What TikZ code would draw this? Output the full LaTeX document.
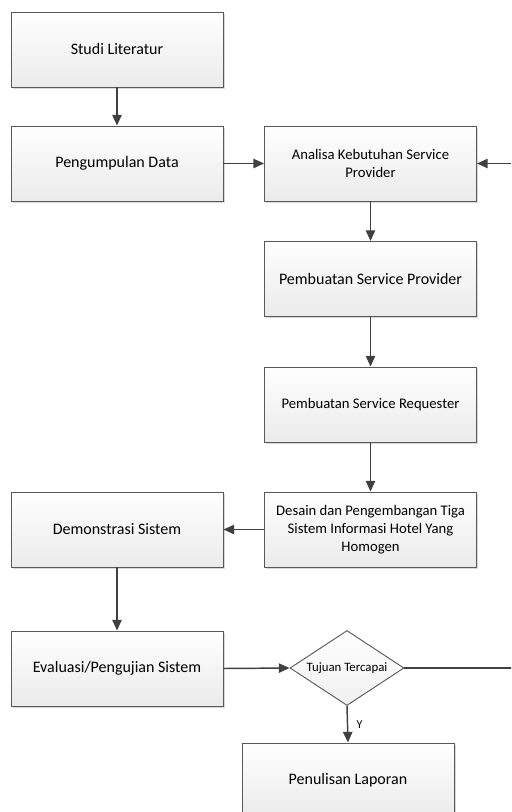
\documentclass[tikz,border=0pt]{standalone}
\usepackage{fontspec}
\setmainfont{Carlito}
\usetikzlibrary{shapes.geometric,arrows.meta,shadows}

\definecolor{edge}{HTML}{595959}
\definecolor{wire}{HTML}{404040}

\tikzset{
  stepbox/.style={
    rectangle, draw=edge, line width=0.7pt,
    top color=white, bottom color=black!8,
    drop shadow={shadow xshift=1.3pt, shadow yshift=-1.3pt, fill=black!22, opacity=0.7},
    minimum width=159pt, minimum height=56.25pt, inner sep=2pt,
    align=center, font=\fontsize{12}{14.4}\selectfont, text=black
  },
  smalltxt/.style={font=\fontsize{11}{13.5}\selectfont},
  decide/.style={
    diamond, draw=edge, line width=0.7pt,
    top color=white, bottom color=black!6,
    aspect=1.52, inner sep=0pt,
    minimum width=85.5pt, minimum height=56.25pt,
    font=\fontsize{9.6}{11}\selectfont
  },
  flow/.style={draw=wire, line width=1.1pt,
    -{Triangle[length=8pt,width=7pt]}},
  plain/.style={draw=wire, line width=1.1pt}
}

\begin{document}
\begin{tikzpicture}[x=0.75pt, y=-0.75pt]
  \useasboundingbox (0,0) rectangle (511,812);
  \clip (0,0) rectangle (511,812);

  % left column
  \node[stepbox] (studi)   at (117,49.5)  {Studi Literatur};
  \node[stepbox] (kumpul)  at (117,163.5) {Pengumpulan Data};
  \node[stepbox] (demo)    at (117,529.5) {Demonstrasi Sistem};
  \node[stepbox] (eval)    at (117,668.5) {Evaluasi/Pengujian Sistem};

  % right column
  \node[stepbox, smalltxt] (analisa) at (370.5,163.5) {Analisa Kebutuhan Service\\Provider};
  \node[stepbox]           (sp)      at (370.5,279)   {Pembuatan Service Provider};
  \node[stepbox, smalltxt] (sr)      at (370.5,404.5) {Pembuatan Service Requester};
  \node[stepbox, smalltxt] (desain)  at (370.5,529.5) {Desain dan Pengembangan Tiga\\Sistem Informasi Hotel Yang\\Homogen};

  % decision and final step
  \node[decide] (tujuan) at (347,668) {Tujuan Tercapai};
  \node[stepbox] (tulis) at (348,780.5) {Penulisan Laporan};

  % connectors
  \draw[flow] (studi) -- (kumpul);
  \draw[flow] (kumpul) -- (analisa);
  \draw[flow] (analisa) -- (sp);
  \draw[flow] (sp) -- (sr);
  \draw[flow] (sr) -- (desain);
  \draw[flow] (desain) -- (demo);
  \draw[flow] (demo) -- (eval);
  \draw[flow] (eval.east) -- (tujuan.west);
  \draw[flow] (tujuan.south) -- node[right, xshift=3pt, font=\fontsize{9}{10}\selectfont] {Y} (tulis.north);

  % loop back when the goal is not reached
  \coordinate (loop) at (522,668);
  \draw[flow] (tujuan.east) -- (loop) |- (analisa.east);
\end{tikzpicture}
\end{document}
